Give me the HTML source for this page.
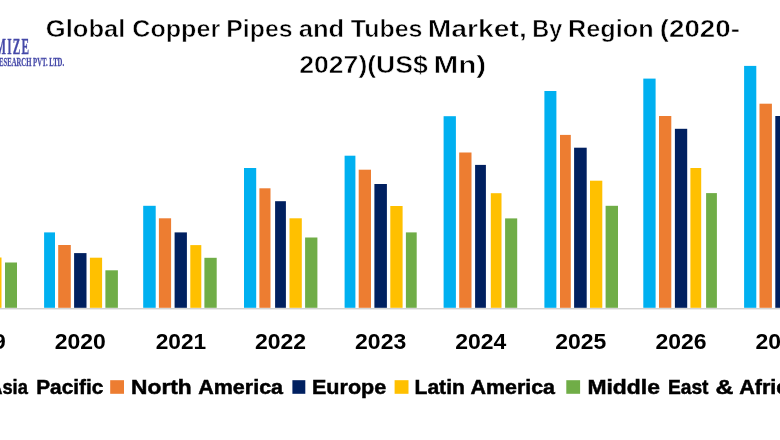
<!DOCTYPE html>
<html lang="en">
<head>
<meta charset="utf-8">
<title>Global Copper Pipes and Tubes Market, By Region (2020-2027)(US$ Mn)</title>
<style>
html,body{margin:0;padding:0;background:#fff;}
body{width:780px;height:440px;overflow:hidden;position:relative;}
svg{display:block;position:absolute;left:-10px;top:-10px;filter:blur(0.45px);}
text{font-family:"Liberation Sans",sans-serif;font-weight:bold;fill:#000;}
.logo text{font-family:"Liberation Serif",serif;font-weight:bold;fill:#4448a8;}
</style>
</head>
<body>
<svg width="800" height="460" viewBox="-10 -10 800 460">
<rect x="-10" y="-10" width="800" height="460" fill="#ffffff"/>
<!-- axis -->
<rect x="-10" y="308" width="800" height="1" fill="#d2d2d2"/>
<rect x="-10" y="309" width="800" height="1" fill="#ececec"/>
<!-- bars -->
<rect x="-10.0" y="257.5" width="11.5" height="50.3" fill="#FFC000"/>
<rect x="5.0" y="262.5" width="12.0" height="45.3" fill="#70AD47"/>
<rect x="44.1" y="232.4" width="10.9" height="75.4" fill="#00B0F0"/>
<rect x="58.2" y="245.0" width="12.6" height="62.8" fill="#ED7D31"/>
<rect x="74.1" y="253.1" width="12.4" height="54.7" fill="#002060"/>
<rect x="89.9" y="257.7" width="12.2" height="50.1" fill="#FFC000"/>
<rect x="105.4" y="270.3" width="12.5" height="37.5" fill="#70AD47"/>
<rect x="143.2" y="205.8" width="12.5" height="102.0" fill="#00B0F0"/>
<rect x="158.9" y="218.3" width="12.2" height="89.5" fill="#ED7D31"/>
<rect x="174.6" y="232.4" width="12.3" height="75.4" fill="#002060"/>
<rect x="190.3" y="245.1" width="11.0" height="62.7" fill="#FFC000"/>
<rect x="204.4" y="257.8" width="12.3" height="50.0" fill="#70AD47"/>
<rect x="244.0" y="168.0" width="12.2" height="139.8" fill="#00B0F0"/>
<rect x="259.4" y="188.3" width="11.1" height="119.5" fill="#ED7D31"/>
<rect x="275.1" y="201.2" width="10.8" height="106.6" fill="#002060"/>
<rect x="289.5" y="218.3" width="12.3" height="89.5" fill="#FFC000"/>
<rect x="305.1" y="237.5" width="12.3" height="70.3" fill="#70AD47"/>
<rect x="344.6" y="155.7" width="10.8" height="152.1" fill="#00B0F0"/>
<rect x="358.7" y="169.7" width="12.3" height="138.1" fill="#ED7D31"/>
<rect x="374.4" y="184.0" width="12.5" height="123.8" fill="#002060"/>
<rect x="390.3" y="206.0" width="12.3" height="101.8" fill="#FFC000"/>
<rect x="405.9" y="232.4" width="10.8" height="75.4" fill="#70AD47"/>
<rect x="443.6" y="116.2" width="12.3" height="191.6" fill="#00B0F0"/>
<rect x="459.2" y="152.5" width="12.3" height="155.3" fill="#ED7D31"/>
<rect x="475.1" y="164.9" width="10.8" height="142.9" fill="#002060"/>
<rect x="490.8" y="193.2" width="10.7" height="114.6" fill="#FFC000"/>
<rect x="505.1" y="218.4" width="12.1" height="89.4" fill="#70AD47"/>
<rect x="544.4" y="91.0" width="12.0" height="216.8" fill="#00B0F0"/>
<rect x="560.0" y="134.9" width="10.8" height="172.9" fill="#ED7D31"/>
<rect x="574.1" y="147.7" width="12.6" height="160.1" fill="#002060"/>
<rect x="590.0" y="180.7" width="12.3" height="127.1" fill="#FFC000"/>
<rect x="605.6" y="205.8" width="12.4" height="102.0" fill="#70AD47"/>
<rect x="643.3" y="78.6" width="12.3" height="229.2" fill="#00B0F0"/>
<rect x="659.0" y="116.0" width="12.3" height="191.8" fill="#ED7D31"/>
<rect x="674.9" y="128.8" width="12.3" height="179.0" fill="#002060"/>
<rect x="690.4" y="168.0" width="10.8" height="139.8" fill="#FFC000"/>
<rect x="706.1" y="193.1" width="10.8" height="114.7" fill="#70AD47"/>
<rect x="744.1" y="65.9" width="12.2" height="241.9" fill="#00B0F0"/>
<rect x="759.5" y="103.7" width="12.4" height="204.1" fill="#ED7D31"/>
<rect x="775.3" y="116.0" width="14.7" height="191.8" fill="#002060"/>

<!-- title -->
<g font-size="24.1" stroke="#fff" stroke-width="0.55">
<text y="37.1"><tspan x="45.8" textLength="79.5" lengthAdjust="spacingAndGlyphs">Global</tspan> <tspan x="132.3" textLength="87.9" lengthAdjust="spacingAndGlyphs">Copper</tspan> <tspan x="226.3" textLength="66.2" lengthAdjust="spacingAndGlyphs">Pipes</tspan> <tspan x="298.7" textLength="45.5" lengthAdjust="spacingAndGlyphs">and</tspan> <tspan x="350.8" textLength="71.7" lengthAdjust="spacingAndGlyphs">Tubes</tspan> <tspan x="427.7" textLength="99.2" lengthAdjust="spacingAndGlyphs">Market,</tspan> <tspan x="532.3" textLength="29.9" lengthAdjust="spacingAndGlyphs">By</tspan> <tspan x="568.0" textLength="85.6" lengthAdjust="spacingAndGlyphs">Region</tspan> <tspan x="659.7" textLength="80.3" lengthAdjust="spacingAndGlyphs">(2020-</tspan></text>
<text y="73.2"><tspan x="299.2" textLength="128.7" lengthAdjust="spacingAndGlyphs">2027)(US$</tspan> <tspan x="433.4" textLength="52.9" lengthAdjust="spacingAndGlyphs">Mn)</tspan></text>
</g>
<!-- logo -->
<g class="logo">
<text transform="translate(30.2 53.6) scale(0.49 1)" x="0" y="0" font-size="23.1" text-anchor="end" letter-spacing="2.4" stroke="#4448a8" stroke-width="0.35">MAXIMIZE</text>
<text x="-37.4" y="65.6" font-size="13.5" textLength="101.5" lengthAdjust="spacingAndGlyphs" stroke="#4448a8" stroke-width="0.3">MARKET RESEARCH PVT. LTD.</text>
</g>
<!-- years -->
<g font-size="22.3">
<text x="-45.3" y="348.6" textLength="51.1" lengthAdjust="spacingAndGlyphs">2019</text>
<text x="54.8" y="348.6" textLength="51.1" lengthAdjust="spacingAndGlyphs">2020</text>
<text x="155.7" y="348.6" textLength="50.5" lengthAdjust="spacingAndGlyphs">2021</text>
<text x="255.0" y="348.6" textLength="51.1" lengthAdjust="spacingAndGlyphs">2022</text>
<text x="355.1" y="348.6" textLength="51.1" lengthAdjust="spacingAndGlyphs">2023</text>
<text x="455.2" y="348.6" textLength="51.1" lengthAdjust="spacingAndGlyphs">2024</text>
<text x="555.3" y="348.6" textLength="51.1" lengthAdjust="spacingAndGlyphs">2025</text>
<text x="655.4" y="348.6" textLength="51.1" lengthAdjust="spacingAndGlyphs">2026</text>
<text x="755.5" y="348.6" textLength="51.1" lengthAdjust="spacingAndGlyphs">2027</text>
</g>
<!-- legend -->
<rect x="-71" y="380.2" width="13.8" height="13.6" fill="#00B0F0"/>
<rect x="110.2" y="380.2" width="13.8" height="13.6" fill="#ED7D31"/>
<rect x="292.4" y="380.2" width="12.9" height="13.6" fill="#002060"/>
<rect x="394.6" y="380.2" width="13.9" height="13.6" fill="#FFC000"/>
<rect x="566.3" y="380.2" width="13.8" height="13.6" fill="#70AD47"/>
<g font-size="20.6" stroke="#000" stroke-width="0.5">
<text y="393.6"><tspan x="-10.8" textLength="38.6" lengthAdjust="spacingAndGlyphs">Asia</tspan> <tspan x="36.2" textLength="67.1" lengthAdjust="spacingAndGlyphs">Pacific</tspan></text>
<text y="393.6"><tspan x="131.1" textLength="60.6" lengthAdjust="spacingAndGlyphs">North</tspan> <tspan x="198.2" textLength="84.9" lengthAdjust="spacingAndGlyphs">America</tspan></text>
<text y="393.6"><tspan x="312.0" textLength="74.2" lengthAdjust="spacingAndGlyphs">Europe</tspan></text>
<text y="393.6"><tspan x="414.5" textLength="50.4" lengthAdjust="spacingAndGlyphs">Latin</tspan> <tspan x="470.5" textLength="84.5" lengthAdjust="spacingAndGlyphs">America</tspan></text>
<text y="393.6"><tspan x="587.4" textLength="72.5" lengthAdjust="spacingAndGlyphs">Middle</tspan> <tspan x="667.9" textLength="40.6" lengthAdjust="spacingAndGlyphs">East</tspan> <tspan x="715.5" textLength="17.9" lengthAdjust="spacingAndGlyphs">&amp;</tspan> <tspan x="739.2" textLength="61.2" lengthAdjust="spacingAndGlyphs">Africa</tspan></text>
</g>
</svg>
</body>
</html>
